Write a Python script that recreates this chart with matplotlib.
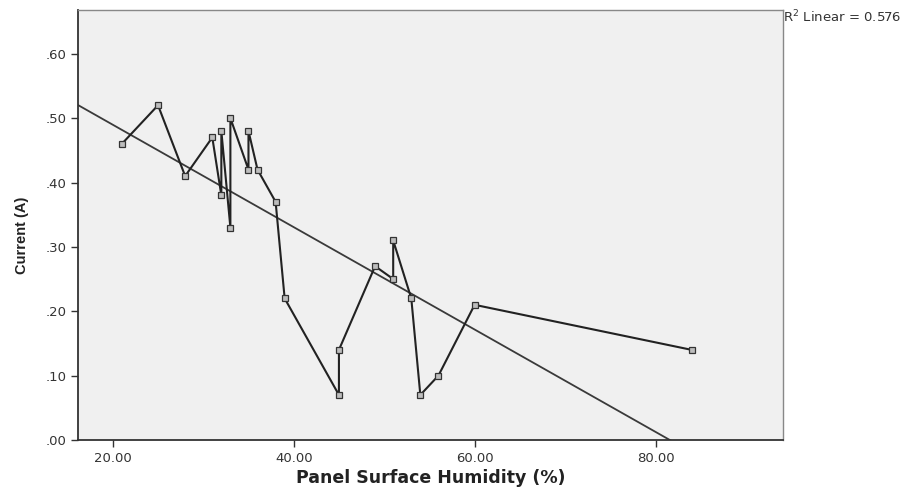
import numpy as np
import matplotlib
matplotlib.use('Agg')
import matplotlib.pyplot as plt

# humidity (%) vs. current (A), in the order the points were recorded
humidity = [21, 25, 28, 31, 32, 32, 33, 33, 35, 35, 36, 38, 39,
            45, 45, 49, 51, 51, 53, 54, 56, 60, 84]
current = [0.46, 0.52, 0.41, 0.47, 0.38, 0.48, 0.33, 0.50, 0.42, 0.48, 0.42, 0.37, 0.22,
           0.07, 0.14, 0.27, 0.25, 0.31, 0.22, 0.07, 0.10, 0.21, 0.14]

x_ticks = [20, 40, 60, 80]
y_ticks = [0.0, 0.1, 0.2, 0.3, 0.4, 0.5, 0.6]
r2_label = 'R$^2$ Linear = 0.576'

plt.rcParams['font.family'] = ['DejaVu Sans']
plt.rcParams['mathtext.fontset'] = 'dejavusans'

fig = plt.figure(figsize=(9.12, 4.92), dpi=100)
ax = fig.add_axes([0.0855, 0.1057, 0.7731, 0.874])
ax.set_facecolor('#f0f0f0')

ax.set_xlim(16.15, 94.1)
ax.set_ylim(0, 0.668)

# least squares fit line across the whole x range
slope, intercept = np.polyfit(humidity, current, 1)
xs = np.array([16.15, 94.1])
ax.plot(xs, slope * xs + intercept, color='#3a3a3a', lw=1.3, zorder=2)

ax.plot(humidity, current, color='#222222', lw=1.5, marker='s', ms=4.5,
        mfc='#bdbdbd', mec='#333333', mew=0.9, zorder=3)

ax.set_xticks(x_ticks)
ax.set_xticklabels([f'{v:.2f}' for v in x_ticks])
ax.set_yticks(y_ticks)
ax.set_yticklabels([f'{v:.2f}'.lstrip('0') for v in y_ticks])
ax.tick_params(direction='out', length=5, width=1, color='#333333',
               labelsize=9.5, labelcolor='#333333')

for side in ['left', 'bottom']:
    ax.spines[side].set_color('#333333')
    ax.spines[side].set_linewidth(1.3)
for side in ['top', 'right']:
    ax.spines[side].set_color('#888888')
    ax.spines[side].set_linewidth(1.0)

ax.set_xlabel('Panel Surface Humidity (%)', fontsize=12.5, fontweight='bold',
              color='#222222', va='center')
ax.xaxis.set_label_coords(0.5, -0.088)
ax.set_ylabel('Current (A)', fontsize=10.5, fontweight='bold',
              family='Liberation Sans', color='#222222', va='center')
ax.yaxis.set_label_coords(-0.079, 0.477)

fig.text(0.859, 0.965, r2_label, fontsize=9.5, color='#333333',
         ha='left', va='center')

fig.savefig('out.png', dpi=100)
